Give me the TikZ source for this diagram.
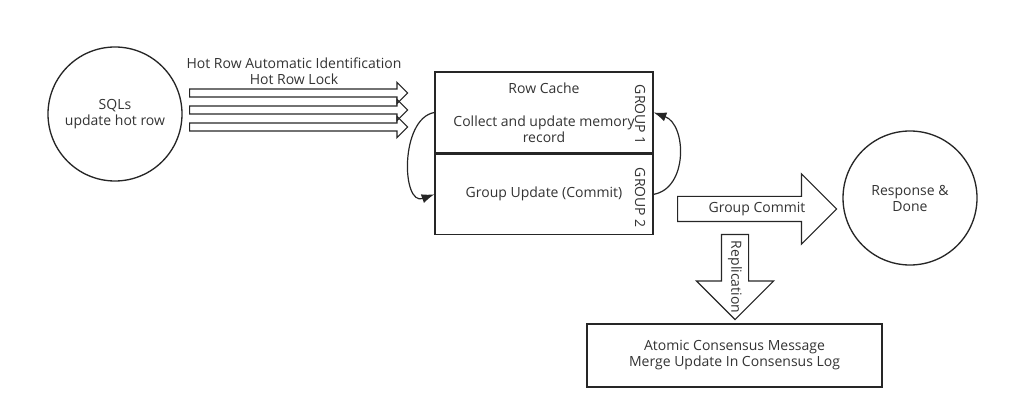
\documentclass[tikz,border=0pt]{standalone}
\usepackage{fontspec}
\setmainfont{Open Sans}
\usetikzlibrary{shapes,arrows,arrows.meta,positioning}

\begin{document}
\begin{tikzpicture}[
        x=0.75pt, y=-0.75pt,
        font=\fontsize{10.5}{12}\selectfont,
        round/.style={circle, draw=black!85, line width=1pt, minimum size=100.5pt, align=center, text=black!80},
        box/.style={rectangle, draw=black!85, line width=1pt, minimum width=163.5pt, align=center, text=black!80},
        label/.style={align=center, text=black!80, inner sep=0pt},
        thinarrow/.style={single arrow, draw=black!85, line width=0.9pt, inner xsep=0pt, inner ysep=2.6pt, single arrow head extend=4.9pt, minimum height=163.5pt, anchor=tail},
        fatarrow/.style={single arrow, draw=black!85, line width=0.9pt, inner xsep=0pt, anchor=tail},
        loopback/.style={->, >={Latex[length=9.5pt,width=7pt]}, draw=black!85, line width=0.9pt}
    ]
    \useasboundingbox (0,0) rectangle (1009,420);

    % Actors/Objects
    \node[round] (sqls) at (115,114) {SQLs\\update hot row};
    \node[box, minimum height=60.75pt] (cache) at (544,112.5) {Row Cache\\[12.75pt]Collect and update memory\\record};
    \node[box, minimum height=60pt, below=0pt of cache] (update) {Group Update (Commit)};
    \node[round] (done) at (910,198) {Response \&\\Done};
    \node[box, minimum width=221.25pt, minimum height=47.25pt] (consensus) at (734.5,355.5) {Atomic Consensus Message\\Merge Update In Consensus Log};

    % Group labels
    \node[label, rotate=-90] (group1) at (640,115) {GROUP 1};
    \node[label, rotate=-90] (group2) at (640,198) {GROUP 2};

    % Hot row arrows
    \node[label] (hotrow) at (294,71) {Hot Row Automatic Identification\\Hot Row Lock};
    \node[thinarrow] (hot1) at (189,93) {};
    \node[thinarrow] (hot2) at (189,110) {};
    \node[thinarrow] (hot3) at (189,127) {};

    % Group commit and replication
    \node[fatarrow, inner ysep=9pt, single arrow head extend=16.9pt, minimum height=119.25pt] (commit) at (677,209) {};
    \node[label] (commitlabel) at (757,209) {Group Commit};
    \node[fatarrow, rotate=-90, inner ysep=9.75pt, single arrow head extend=18.75pt, minimum height=63.75pt] (replication) at (735,234) {};
    \node[label, rotate=-90] (replicationlabel) at (735,277) {Replication};

    % Loops between the groups
    \draw[loopback] (cache.west) to[out=190, in=200, looseness=1.1] (update.west);
    \draw[loopback] (update.east) to[out=10, in=-20, looseness=1.1] (cache.east);

\end{tikzpicture}
\end{document}
